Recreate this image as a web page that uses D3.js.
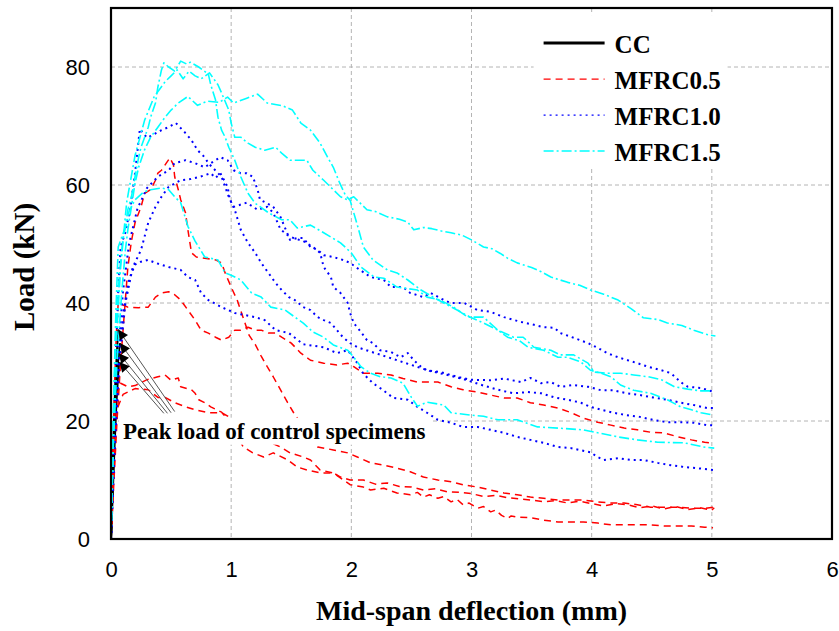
<!DOCTYPE html>
<html>
<head>
<meta charset="utf-8">
<script src="https://cdnjs.cloudflare.com/ajax/libs/d3/7.8.5/d3.min.js"></script>
<style>
  body { margin: 0; background: #fff; }
  svg { display: block; }
</style>
</head>
<body>
<svg id="chart"></svg>
<script>
// ---- data (deflection mm, load kN) ----
const xTicks = [0, 1, 2, 3, 4, 5, 6];
const yTicks = [0, 20, 40, 60, 80];
const seriesNames = ["CC", "MFRC0.5", "MFRC1.0", "MFRC1.5"];

// control specimens
const cc1 = [[0,0],[0.01,9],[0.02,17],[0.035,26],[0.05,32],[0.06,35.5]];
const cc2 = [[0,0],[0.012,8],[0.025,16],[0.04,24],[0.055,30],[0.075,33.2]];
const cc3 = [[0,0],[0.01,7],[0.02,14],[0.035,22],[0.05,28],[0.065,31.5]];
const cc4 = [[0,0],[0.015,8],[0.03,16],[0.045,23],[0.06,28],[0.07,30]];

// MFRC0.5
const m05a = [[0,0],[0.02,8],[0.05,20],[0.08,30],[0.11,38],[0.14,46],[0.17,50.5],[0.2,53.6],[0.25,56.3],[0.28,58.6],[0.33,59.2],[0.37,60.8],[0.39,62],[0.42,62.5],[0.46,63.7],[0.49,64.6],[0.52,63.4],[0.53,61.4],[0.56,59.2],[0.58,57.5],[0.62,55.3],[0.64,52.4],[0.67,48.5],[0.71,47.8],[0.78,47.6],[0.87,47.3],[0.92,46.8],[0.95,45.1],[1.0,42.7],[1.05,40.5],[1.1,37.5],[1.15,34.5],[1.2,33],[1.25,31],[1.3,29.2],[1.35,27.5],[1.41,25.3],[1.47,23.1],[1.52,21.4],[1.6,19],[1.72,15.6],[1.85,15.1],[1.97,14.6],[2.05,13.9],[2.16,12.9],[2.27,12.5],[2.38,12],[2.49,11.4],[2.6,10.5],[2.72,10],[2.83,9.7],[2.93,9.2],[3.05,8.8],[3.16,8.3],[3.27,7.8],[3.38,7.5],[3.49,7.1],[3.6,6.9],[3.72,6.6],[3.93,6.6],[4.05,6.3],[4.16,6.1],[4.27,6.1],[4.38,5.8],[4.49,5.4],[4.72,5.4],[4.83,5.2],[4.94,5.2],[5.02,5.4]];
const m05b = [[0,0],[0.015,14],[0.03,26],[0.045,35],[0.06,40],[0.14,39.3],[0.23,39.2],[0.31,39.3],[0.37,41],[0.42,41.7],[0.48,41.9],[0.53,41.4],[0.58,40.5],[0.64,38.8],[0.7,37.1],[0.75,35.4],[0.81,34.9],[0.87,34.2],[0.92,33.7],[0.98,34.2],[1.03,35.4],[1.08,35.4],[1.14,35.9],[1.2,35.4],[1.25,35.4],[1.31,34.9],[1.37,34.9],[1.42,34.2],[1.5,33.2],[1.58,31.5],[1.66,30.3],[1.77,29.8],[1.88,29.5],[1.97,29.8],[2.02,29.2],[2.1,28.1],[2.22,28.1],[2.33,27.8],[2.43,27.2],[2.55,26.6],[2.72,26.6],[2.83,25.8],[2.93,25.3],[3.05,24.9],[3.16,24.4],[3.27,23.9],[3.38,23.9],[3.49,23.1],[3.6,22.7],[3.72,22.2],[3.83,21.4],[3.93,20.5],[4.05,19.8],[4.16,19.3],[4.27,18.8],[4.38,18.5],[4.49,18.1],[4.6,18],[4.72,17.3],[4.83,16.8],[4.94,16.4],[4.99,16.3]];
const m05c = [[0,0],[0.02,15],[0.04,24],[0.08,26.4],[0.14,25.8],[0.2,26],[0.3,27],[0.39,27.5],[0.45,27.8],[0.5,26.9],[0.56,27.3],[0.58,25.8],[0.67,25.3],[0.7,24.7],[0.73,23.6],[0.78,23.1],[0.83,22.4],[0.92,21.5],[1.0,19.5],[1.1,15.6],[1.18,14.6],[1.27,13.9],[1.35,14.6],[1.47,13.4],[1.55,12.2],[1.63,11.7],[1.74,11.2],[1.85,11.2],[1.91,10.5],[1.99,10],[2.1,10],[2.2,9.3],[2.3,9.5],[2.4,8.9],[2.5,8.8],[2.6,8.3],[2.7,8.5],[2.8,8.0],[2.9,7.9],[3.0,7.7],[3.1,7.2],[3.2,7.4],[3.3,7.0],[3.4,6.8],[3.5,6.6],[3.6,6.3],[3.7,6.5],[3.8,6.1],[3.9,6.4],[4.0,6.0],[4.1,5.6],[4.2,6.0],[4.3,5.8],[4.4,5.3],[4.5,5.6],[4.6,5.1],[4.7,5.5],[4.8,5.0],[4.9,5.3],[5.0,4.9],[5.02,5.3]];
const m05d = [[0,0],[0.02,12],[0.05,22],[0.1,24.5],[0.2,25.5],[0.31,25.3],[0.39,24],[0.45,24],[0.53,23.1],[0.62,22.4],[0.7,21.9],[0.81,21.4],[0.92,21.4],[1.0,20.5],[1.2,17.5],[1.41,15.6],[1.49,14.6],[1.6,13.9],[1.66,13.4],[1.74,11.7],[1.85,11.2],[1.99,9.2],[2.1,8.8],[2.16,8.3],[2.27,8.6],[2.38,7.8],[2.49,7.5],[2.55,7.9],[2.6,7.1],[2.65,7.5],[2.72,6.9],[2.77,7.2],[2.83,6.3],[2.88,6.7],[2.93,5.8],[2.98,6.1],[3.05,5.2],[3.1,5.5],[3.16,4.6],[3.2,4.9],[3.25,4.0],[3.3,3.5],[3.33,3.9],[3.38,3.7],[3.49,3.6],[3.6,3.2],[3.72,2.9],[3.93,2.9],[4.05,2.7],[4.16,2.4],[4.49,2.4],[4.6,2.2],[4.83,2.2],[4.94,2.0],[5.01,1.9]];

// MFRC1.0
const m10a = [[0,0],[0.02,15],[0.04,30],[0.06,42],[0.08,49.5],[0.12,52],[0.16,56],[0.2,62],[0.24,69.5],[0.3,68],[0.35,68.5],[0.42,69.3],[0.48,69.8],[0.54,70.5],[0.62,68.8],[0.67,67.6],[0.72,65.9],[0.78,64.7],[0.81,63.7],[0.92,61.4],[0.98,58],[1.03,55.8],[1.08,52.4],[1.14,50.2],[1.2,48.5],[1.25,46.8],[1.31,45.1],[1.37,43.4],[1.42,42.2],[1.48,41],[1.53,40.5],[1.6,39.3],[1.66,38.8],[1.72,37.6],[1.77,37.1],[1.83,36.6],[1.88,35.4],[1.93,34.2],[1.99,33.2],[2.05,32.5],[2.2,31.5],[2.35,30.5],[2.5,29.5],[2.65,28.5],[2.8,27.8],[2.95,27],[3.1,26],[3.24,25.2],[3.35,24.7],[3.47,24.9],[3.58,24.7],[3.69,24],[3.8,23.6],[3.91,23.1],[3.99,22.4],[4.08,21.9],[4.18,21.4],[4.29,21],[4.4,20.7],[4.51,20.2],[4.63,19.8],[4.74,19.8],[4.85,19.7],[4.96,19.3],[5.01,19.3]];
const m10b = [[0,0],[0.03,18],[0.06,32],[0.1,42],[0.15,50],[0.22,56],[0.3,59.5],[0.39,61.4],[0.48,62.5],[0.53,63.7],[0.62,64.2],[0.7,63.7],[0.78,63],[0.83,63.7],[0.91,64.7],[0.97,64.2],[1.02,62.5],[1.08,62],[1.13,62],[1.18,61.4],[1.22,59.2],[1.24,57.5],[1.3,56.9],[1.35,56.3],[1.41,54.6],[1.49,50.7],[1.55,51],[1.6,51],[1.66,49.5],[1.72,49],[1.77,48.1],[1.85,47.8],[1.93,47.3],[1.99,46.8],[2.05,45.9],[2.16,44.4],[2.27,43.9],[2.33,42.7],[2.43,42.7],[2.49,41.7],[2.6,41],[2.66,41.7],[2.77,40.5],[2.83,40],[2.94,40],[3.05,38.8],[3.16,38.5],[3.27,37.6],[3.41,36.8],[3.52,36.3],[3.6,35.9],[3.69,35.8],[3.74,34.9],[3.85,34.1],[3.97,33.2],[4.05,32.4],[4.13,31.5],[4.22,30.8],[4.3,30.3],[4.38,29.8],[4.47,29.2],[4.58,28.6],[4.66,28.1],[4.74,26.6],[4.8,25.8],[4.91,25.6],[5.02,24.9]];
const m10c = [[0,0],[0.03,15],[0.07,30],[0.12,40],[0.18,46],[0.25,49],[0.31,53.6],[0.37,56.3],[0.42,58],[0.48,59.7],[0.58,60.8],[0.66,61],[0.74,61.4],[0.83,62],[0.87,61.2],[0.91,62],[0.97,59.7],[0.99,57.5],[1.02,56.3],[1.13,57],[1.22,55.8],[1.3,56.3],[1.35,55.3],[1.41,52.5],[1.47,51.5],[1.52,51],[1.6,50.5],[1.68,49.5],[1.74,48.5],[1.77,46.1],[1.83,44.4],[1.85,42.7],[1.91,41.7],[1.97,40],[1.99,38.3],[2.02,36.6],[2.08,35.1],[2.13,33.7],[2.18,33.2],[2.24,32],[2.33,31.7],[2.41,30.8],[2.47,31.5],[2.52,30.3],[2.58,29.2],[2.63,28.6],[2.74,28.3],[2.88,27.5],[2.99,27],[3.16,26.9],[3.27,27.2],[3.41,26.6],[3.49,27.3],[3.58,26.4],[3.66,26.6],[3.74,25.8],[3.85,26.1],[3.97,25.8],[4.08,25.2],[4.18,25.2],[4.29,24.7],[4.4,24.4],[4.51,24],[4.63,23.6],[4.74,23.1],[4.85,22.7],[4.96,22.2],[5.01,22.2]];
const m10d = [[0,0],[0.02,12],[0.05,26],[0.1,38],[0.15,44],[0.2,46.5],[0.25,47],[0.31,47.3],[0.37,46.8],[0.48,46.1],[0.58,45.6],[0.64,44.4],[0.7,43.9],[0.75,41.7],[0.81,40.5],[0.92,39.3],[1.03,38.3],[1.2,37.6],[1.28,37.1],[1.37,35.4],[1.48,34.9],[1.6,33],[1.77,32.5],[1.88,31.5],[1.97,32],[2.05,29.8],[2.1,28],[2.18,26.4],[2.26,25.3],[2.35,23.9],[2.47,23.6],[2.55,22.4],[2.63,21.4],[2.72,20.2],[2.83,19.7],[2.93,19],[3.05,19],[3.16,18.5],[3.27,18],[3.38,17.3],[3.49,16.8],[3.6,16.3],[3.72,15.6],[3.83,15.4],[3.99,14.7],[4.05,13.9],[4.1,13.4],[4.22,13.7],[4.33,13.4],[4.43,13.4],[4.55,12.9],[4.66,12.5],[4.77,12.2],[4.88,12],[5.01,11.7]];

// MFRC1.5
const m15a = [[0,0],[0.02,18],[0.04,32],[0.08,46],[0.13,57],[0.2,65],[0.28,71],[0.36,75],[0.45,77.5],[0.5,78.5],[0.55,79.5],[0.6,78],[0.65,79.3],[0.7,78.5],[0.75,78],[0.82,79],[0.89,77],[0.92,75.6],[0.98,72.7],[1.0,70.5],[1.03,68.1],[1.08,68.1],[1.14,67.1],[1.2,66.4],[1.28,65.9],[1.37,66.4],[1.42,65.4],[1.49,64.2],[1.55,64.2],[1.63,64.2],[1.68,62.5],[1.77,60.8],[1.85,59.2],[1.91,58],[1.97,57.5],[2.02,58],[2.13,55.8],[2.2,55.5],[2.3,54.6],[2.4,54.2],[2.47,53.7],[2.52,52.4],[2.6,52.8],[2.67,52.6],[2.75,52.2],[2.83,51.9],[2.92,51.5],[3.0,50.7],[3.1,49.5],[3.17,49.2],[3.24,48.4],[3.3,47.6],[3.38,46.8],[3.5,46],[3.58,45.3],[3.66,44.4],[3.8,43.5],[3.9,43.0],[3.99,42.2],[4.1,41.5],[4.22,40.5],[4.33,39],[4.43,37.5],[4.55,37.2],[4.63,36.6],[4.75,36.2],[4.85,35.4],[4.95,34.7],[5.03,34.4]];
const m15b = [[0,0],[0.02,16],[0.05,30],[0.09,42],[0.12,49],[0.14,52.4],[0.17,56.3],[0.2,60.3],[0.23,63],[0.28,66],[0.33,68.1],[0.39,69.8],[0.45,71.5],[0.5,72.7],[0.56,73.9],[0.64,75],[0.72,73.5],[0.8,74.2],[0.9,74],[0.97,74.9],[1.02,73.9],[1.13,74.7],[1.22,75.4],[1.3,73.9],[1.43,73.4],[1.51,72.7],[1.58,70.5],[1.66,69.3],[1.74,67.1],[1.8,64.8],[1.85,63],[1.9,60.5],[1.95,58.3],[1.99,57.4],[2.02,55.3],[2.06,52.5],[2.1,49.5],[2.18,47.3],[2.3,45.6],[2.38,45.1],[2.47,43.9],[2.58,42.2],[2.68,41],[2.77,40],[2.88,38.8],[2.99,37.6],[3.1,36.6],[3.22,35.4],[3.35,34.2],[3.43,34.2],[3.52,32.5],[3.66,32],[3.74,31.2],[3.85,31.2],[3.97,29.8],[4.02,28.3],[4.13,28.1],[4.24,28.1],[4.35,27.8],[4.47,27.5],[4.58,27],[4.69,25.8],[4.8,25.4],[4.91,25.1],[5.0,25.1]];
const m15c = [[0,0],[0.02,22],[0.04,38],[0.06,49.5],[0.12,52.9],[0.14,55.8],[0.17,58],[0.2,61.4],[0.23,64.7],[0.25,66.4],[0.28,68.1],[0.31,69.8],[0.33,71.5],[0.37,73.9],[0.39,76.6],[0.42,79.5],[0.44,80.7],[0.48,80],[0.53,79.3],[0.58,81],[0.63,80.5],[0.66,80.8],[0.73,80],[0.81,78.8],[0.83,77],[0.87,74.4],[0.89,71.5],[0.92,69.3],[0.95,68.1],[0.98,66.4],[1.03,64.2],[1.08,61.4],[1.14,58.6],[1.2,56.9],[1.31,55.3],[1.42,54.1],[1.49,54.1],[1.55,52.7],[1.66,53.2],[1.77,51.9],[1.91,50.2],[2.0,48.5],[2.08,46.1],[2.19,44.4],[2.27,44.2],[2.38,42.7],[2.55,42.2],[2.63,41],[2.74,40.5],[2.85,39.3],[2.97,37.6],[3.1,37.6],[3.22,35.4],[3.3,34.2],[3.4,33.6],[3.47,32.5],[3.6,32],[3.72,30.8],[3.8,30.8],[3.91,30],[3.99,28.6],[4.08,28.1],[4.16,27.5],[4.24,26.1],[4.35,25.2],[4.49,24.7],[4.63,23.6],[4.74,22.4],[4.83,21.9],[4.91,21.4],[5.01,21]];
const m15d = [[0,0],[0.02,20],[0.04,35],[0.07,45],[0.1,51],[0.15,55.5],[0.2,57.5],[0.27,58.8],[0.33,59.2],[0.42,59.5],[0.48,59.2],[0.53,58],[0.58,57],[0.64,53],[0.7,50.5],[0.78,47.8],[0.89,47.3],[0.95,45.1],[1.0,44.7],[1.08,43.9],[1.17,41.7],[1.25,41],[1.33,39.3],[1.45,38.8],[1.53,37.6],[1.6,36.6],[1.68,35.1],[1.77,34.2],[1.85,32.9],[1.97,32],[2.02,30.8],[2.08,29.2],[2.16,28.1],[2.24,27.5],[2.33,27.3],[2.43,26.4],[2.5,24],[2.55,22.5],[2.63,23.2],[2.77,22.7],[2.83,21.4],[2.99,21],[3.1,20.8],[3.22,20.2],[3.38,20.2],[3.55,19],[3.72,18.8],[3.93,18.5],[4.05,18],[4.22,17.3],[4.38,16.8],[4.55,16.4],[4.77,16.3],[4.93,15.6],[5.02,15.4]];

// annotation
const noteText = "Peak load of control specimens";
const noteTails = [[0.53,21.6],[0.5,21.4],[0.47,21.3],[0.44,21.3]];

// ---- layout ----
const W = 839, H = 631;
const margin = { top: 8, right: 7, bottom: 92, left: 111 };
const width = W - margin.left - margin.right;
const height = H - margin.top - margin.bottom;

const specimens = {
  "CC": [cc1, cc2, cc3, cc4],
  "MFRC0.5": [m05a, m05b, m05c, m05d],
  "MFRC1.0": [m10a, m10b, m10c, m10d],
  "MFRC1.5": [m15a, m15b, m15c, m15d]
};

const styles = {
  "CC":      { color: "#000000", dash: null,         w: 2,   legendW: 3 },
  "MFRC0.5": { color: "#ff0000", dash: "7,5",        w: 1.5, legendW: 1.3 },
  "MFRC1.0": { color: "#0000ff", dash: "2,4",        w: 2,   legendW: 1.3 },
  "MFRC1.5": { color: "#00ffff", dash: "10,3,2,3",   w: 1.6, legendW: 1.5 }
};

const svg = d3.select("#chart").attr("width", W).attr("height", H);

const x = d3.scaleLinear().domain([0, 6]).range([0, width]);
const y = d3.scaleLinear().domain([0, 90]).range([height, 0]);

const g = svg.append("g").attr("transform", `translate(${margin.left},${margin.top})`);

// grid
g.append("g").selectAll("line").data(xTicks.filter(d => d > 0 && d < 6)).join("line")
  .attr("x1", d => x(d)).attr("x2", d => x(d)).attr("y1", 0).attr("y2", height)
  .attr("stroke", "#b4b4b4").attr("stroke-width", 1).attr("stroke-dasharray", "4,3");
g.append("g").selectAll("line").data(yTicks.filter(d => d > 0)).join("line")
  .attr("y1", d => y(d)).attr("y2", d => y(d)).attr("x1", 0).attr("x2", width)
  .attr("stroke", "#b4b4b4").attr("stroke-width", 1).attr("stroke-dasharray", "4,3");

// axes labels
const xAxis = g.append("g").attr("transform", `translate(0,${height})`)
  .call(d3.axisBottom(x).tickValues(xTicks).tickFormat(d3.format("d")).tickSize(0).tickPadding(22));
const yAxis = g.append("g")
  .call(d3.axisLeft(y).tickValues(yTicks).tickFormat(d3.format("d")).tickSize(0).tickPadding(21));
[xAxis, yAxis].forEach(a => {
  a.select(".domain").remove();
  a.selectAll("text").style("font-family", "'Liberation Sans', Arial, sans-serif")
    .style("font-size", "22px").attr("fill", "#000");
});

// curves
const line = d3.line().x(d => x(d[0])).y(d => y(d[1]));
seriesNames.forEach(name => {
  const st = styles[name];
  g.append("g").attr("class", "series")
    .selectAll("path").data(specimens[name]).join("path")
    .attr("d", line)
    .attr("fill", "none")
    .attr("stroke", st.color)
    .attr("stroke-width", st.w)
    .attr("stroke-dasharray", st.dash)
    .attr("stroke-linejoin", "round");
});

// annotation box + text
const noteX = 12, noteY = y(17);
g.append("rect").attr("x", 8).attr("y", noteY - 21).attr("width", 314).attr("height", 27).attr("fill", "#fff");
g.append("text").attr("x", noteX).attr("y", noteY)
  .style("font-family", "'Liberation Serif', 'Times New Roman', serif")
  .style("font-weight", "bold").style("font-size", "23px").text(noteText);

// arrows to the CC peaks
svg.append("defs").append("marker")
  .attr("id", "head").attr("viewBox", "0 0 10 10").attr("refX", 10).attr("refY", 5)
  .attr("markerWidth", 13).attr("markerHeight", 10).attr("markerUnits", "userSpaceOnUse")
  .attr("orient", "auto")
  .append("path").attr("d", "M0,0L10,5L0,10z").attr("fill", "#000");
const peaks = specimens["CC"].map(s => s.reduce((a, b) => (b[1] > a[1] ? b : a)));
g.append("g").selectAll("line").data(peaks).join("line")
  .attr("x1", (d, i) => x(noteTails[i][0])).attr("y1", (d, i) => y(noteTails[i][1]))
  .attr("x2", d => x(d[0])).attr("y2", d => y(d[1]))
  .attr("stroke", "#555").attr("stroke-width", 1)
  .attr("marker-end", "url(#head)");

// legend
const legend = g.append("g").attr("transform", `translate(${x(3.6)},${y(88.8)})`);
legend.append("rect").attr("x", -10).attr("y", 0).attr("width", 194).attr("height", 152).attr("fill", "#fff");
seriesNames.forEach((name, i) => {
  const st = styles[name];
  const ly = 28 + i * 36;
  legend.append("line").attr("x1", 0).attr("x2", 61).attr("y1", ly).attr("y2", ly)
    .attr("stroke", st.color).attr("stroke-width", st.legendW).attr("stroke-dasharray", st.dash);
  legend.append("text").attr("x", 71).attr("y", ly + 10)
    .style("font-family", "'Liberation Serif', 'Times New Roman', serif")
    .style("font-weight", "bold").style("font-size", "25px").text(name);
});

// frame
g.append("rect").attr("x", 0).attr("y", 0).attr("width", width).attr("height", height)
  .attr("fill", "none").attr("stroke", "#000").attr("stroke-width", 2.2);

// axis titles
svg.append("text").attr("x", margin.left + width / 2).attr("y", 620)
  .attr("text-anchor", "middle")
  .style("font-family", "'Liberation Serif', 'Times New Roman', serif")
  .style("font-weight", "bold").style("font-size", "28px").text("Mid-span deflection (mm)");
svg.append("text").attr("transform", "translate(34,267) rotate(-90)")
  .attr("text-anchor", "middle")
  .style("font-family", "'Liberation Serif', 'Times New Roman', serif")
  .style("font-weight", "bold").style("font-size", "29px").text("Load (kN)");
</script>
</body>
</html>
